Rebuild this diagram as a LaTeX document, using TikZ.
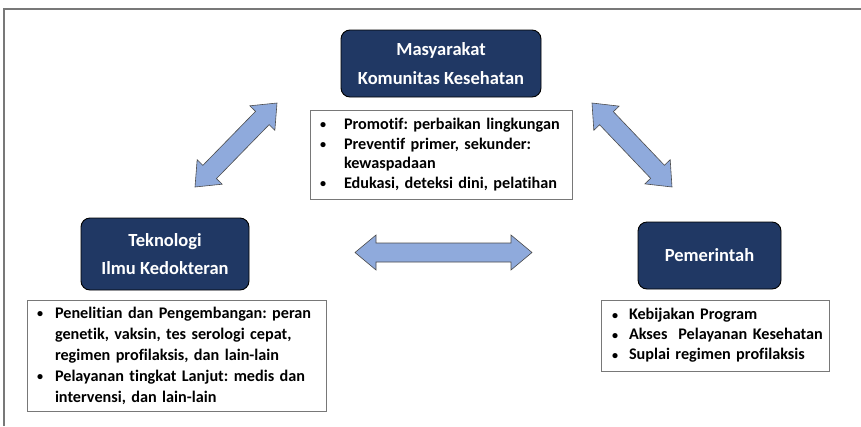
\documentclass[tikz,border=0pt]{standalone}
\usepackage{fontspec}
\setmainfont{Carlito}[RawFeature=-liga]
\usetikzlibrary{calc}
\definecolor{navy}{RGB}{32,56,100}
\definecolor{arrowblue}{RGB}{143,170,220}
\definecolor{framegray}{RGB}{120,120,120}
\newlength\bind
\newlength\bpre
\newcommand\bitem[1]{\hangindent=\bind\hangafter=1\noindent\makebox[\bind][l]{\hspace{\bpre}\raisebox{0.5pt}{\scalebox{0.75}{\textbullet}}}#1\par}
\newcommand\dblarr[2]{%
  \path ($(#1)!\hl!(#2)$) coordinate (h1) ($(#2)!\hl!(#1)$) coordinate (h2);
  \draw[blockarrow] (#1) -- ($(h1)!\hw!90:(#1)$) -- ($(h1)!\sw!90:(#1)$)
    -- ($(h2)!\sw!-90:(#2)$) -- ($(h2)!\hw!-90:(#2)$) -- (#2)
    -- ($(h2)!\hw!90:(#2)$) -- ($(h2)!\sw!90:(#2)$)
    -- ($(h1)!\sw!-90:(#1)$) -- ($(h1)!\hw!-90:(#1)$) -- cycle;}
\begin{document}
\frenchspacing
\begin{tikzpicture}[x=1pt,y=-1pt,
  titlebox/.style={draw=black, line width=0.9pt, fill=navy, rounded corners=9pt,
    text=white, font=\fontsize{18.5}{28.5}\selectfont\bfseries, align=center, inner sep=0pt},
  listbox/.style={draw=framegray, line width=0.9pt, fill=white, inner ysep=0pt, inner xsep=4pt,
    font=\fontsize{16.2}{20.5}\selectfont\bfseries\frenchspacing, align=left},
  blockarrow/.style={draw=black!70, line width=0.6pt, fill=arrowblue, line join=miter}]
\useasboundingbox (0,0) rectangle (861,426);
\draw[framegray, line width=1.2pt] (4,426) -- (4,9) -- (861,9);

\node[titlebox, minimum width=200pt, minimum height=67pt] (masy) at (441,63.5)
  {Masyarakat\\Komunitas Kesehatan};
\node[listbox, minimum width=262pt, minimum height=89pt, text width=254pt] (topbox) at (441,154.5)
  {\raggedright\baselineskip=19.7pt\setlength\bpre{6pt}\setlength\bind{30pt}\bitem{Promotif: perbaikan lingkungan}\bitem{Preventif primer, sekunder:\newline kewaspadaan}\bitem{Edukasi, deteksi dini, pelatihan}};

\node[titlebox, minimum width=168pt, minimum height=72pt] (tek) at (165,254)
  {Teknologi\\Ilmu Kedokteran};
\node[listbox, minimum width=299pt, minimum height=111pt, text width=291pt] (leftbox) at (176.5,355.5)
  {\raggedright\baselineskip=21pt\setlength\bpre{6pt}\setlength\bind{24pt}\bitem{Penelitian dan Pengembangan: peran\newline genetik, vaksin, tes serologi cepat,\newline regimen profilaksis, dan lain-lain}\bitem{Pelayanan tingkat Lanjut: medis dan\newline intervensi, dan lain-lain}};

\node[titlebox, minimum width=143pt, minimum height=67pt] (pem) at (709.5,255.5)
  {Pemerintah};
\node[listbox, minimum width=228pt, minimum height=71pt, text width=220pt] (rightbox) at (715,335.5)
  {\raggedright\baselineskip=20pt\setlength\bpre{7pt}\setlength\bind{24pt}\bitem{Kebijakan Program}\bitem{Akses\ \ Pelayanan Kesehatan}\bitem{Suplai regimen profilaksis}};

\def\hl{21pt}\def\hw{17.5pt}\def\sw{9.5pt}
\coordinate (l1) at (195,187);
\coordinate (l2) at (277,103);
\coordinate (r1) at (592,103);
\coordinate (r2) at (672,187);
\coordinate (m1) at (355,252.5);
\coordinate (m2) at (532,252.5);
\dblarr{l1}{l2}
\dblarr{r1}{r2}
\dblarr{m1}{m2}
\end{tikzpicture}
\end{document}
